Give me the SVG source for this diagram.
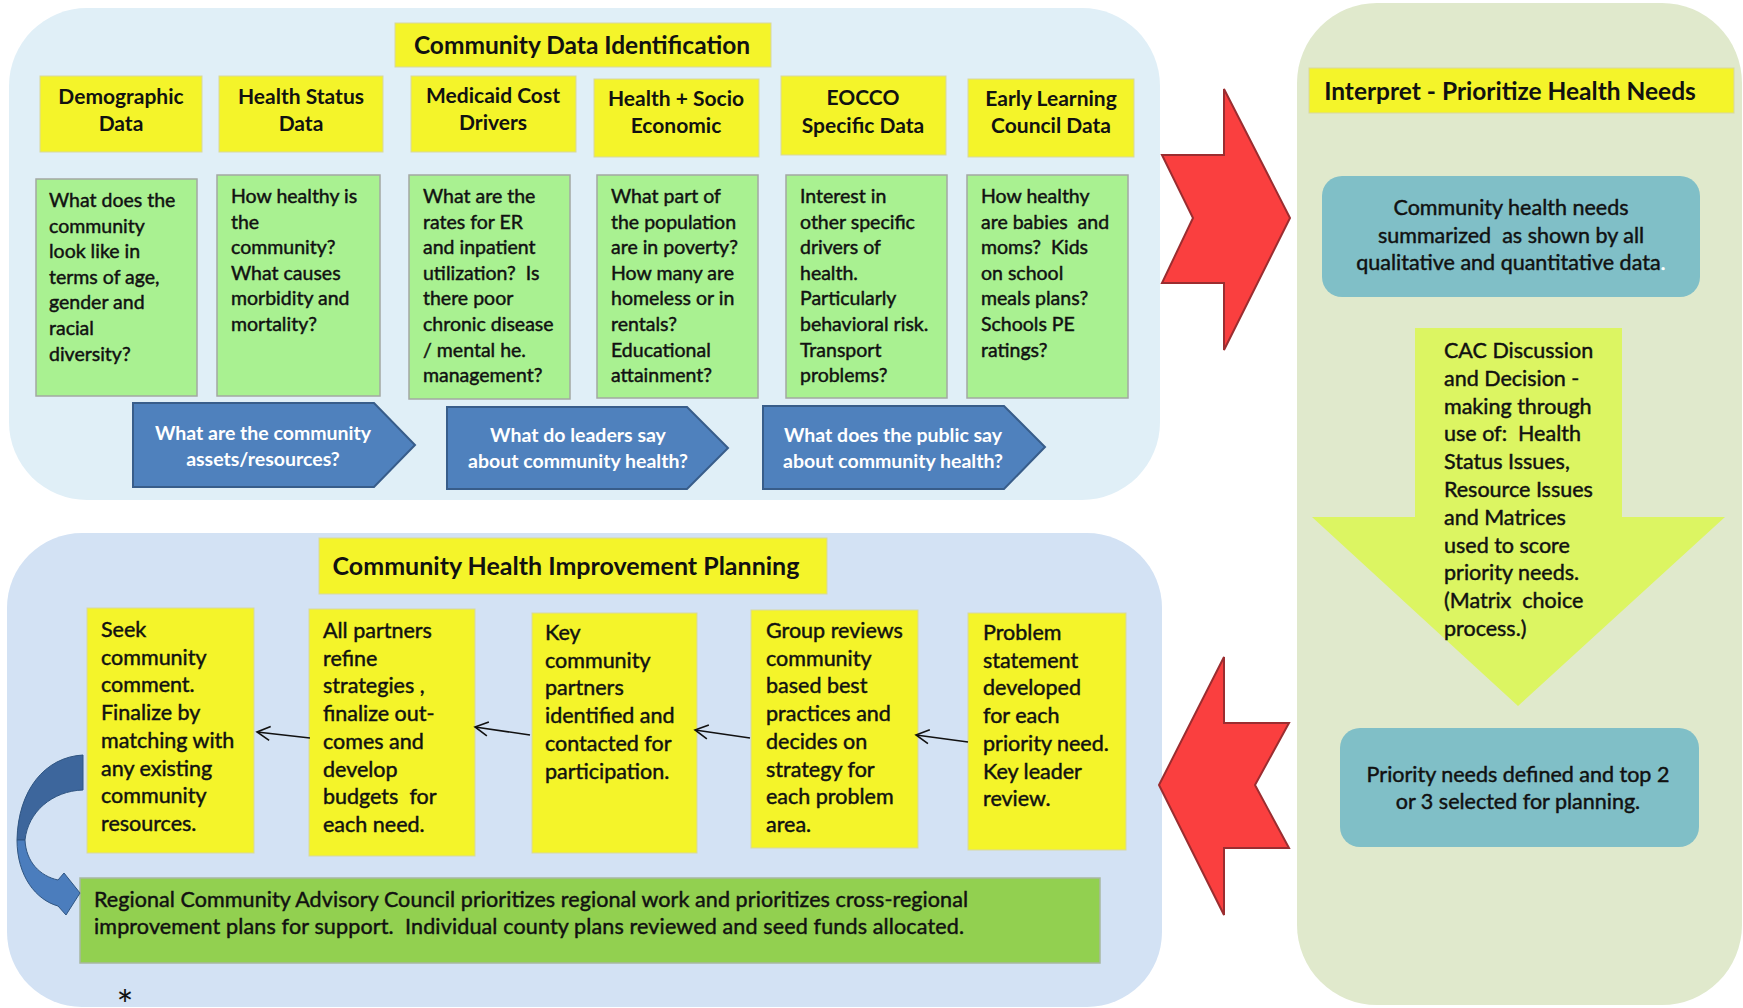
<svg xmlns="http://www.w3.org/2000/svg" width="1743" height="1008" viewBox="0 0 1743 1008">
<defs>
<style>
text{font-family:Lato,"Open Sans","Liberation Sans",sans-serif;fill:#111;white-space:pre;}
.ttl{font-size:24.5px;font-weight:bold;text-anchor:middle;}
.hdr{font-size:21px;font-weight:bold;text-anchor:middle;}
.body{font-size:19.5px;stroke:#111;stroke-width:0.45;}
.plan{font-size:21.5px;stroke:#111;stroke-width:0.45;}
.blu{font-size:19.5px;font-weight:bold;fill:#fff;text-anchor:middle;}
.teal{font-size:21.5px;text-anchor:middle;stroke:#111;stroke-width:0.45;}
.yel{fill:#f4f42a;stroke:#d8d8a0;stroke-width:1;}
.grn{fill:#a9f191;stroke:#a3a8a3;stroke-width:1.5;}
.barrow{fill:#4f81bd;stroke:#385d8a;stroke-width:2;}
.red{fill:#fa3f3f;stroke:#9b2d30;stroke-width:2;}
.tealbox{fill:#80bfc7;}
.conn{stroke:#111;stroke-width:1.6;fill:none;}
</style>
<marker id="ah" viewBox="0 0 20 20" refX="18" refY="10" markerWidth="20" markerHeight="20" orient="auto" markerUnits="userSpaceOnUse">
<path d="M5 3 L18 10 L5 17" fill="none" stroke="#111" stroke-width="1.6"/>
</marker>
</defs>

<!-- panels -->
<g id="panel-data">
<rect x="9" y="8" width="1151" height="492" rx="78" fill="#e0eff7"/>
</g>
<g id="panel-planning">
<rect x="7" y="533" width="1155" height="474" rx="75" fill="#d3e2f4"/>
</g>
<g id="panel-interpret">
<rect x="1297" y="3" width="445" height="1002" rx="80" fill="#e0e9cc"/>
</g>

<!-- Top section -->
<g id="title-data">
<rect class="yel" x="395" y="23" width="376" height="44" stroke="none"/>
<text class="ttl" x="582" y="54">Community Data Identification</text>
</g>

<g id="hdr-demographic">
<rect class="yel" x="40" y="76" width="162" height="76" stroke="none"/>
<text class="hdr" x="121" y="104">Demographic<tspan x="121" y="131">Data</tspan></text>
</g>
<g id="hdr-health-status">
<rect class="yel" x="219" y="76" width="164" height="76" stroke="none"/>
<text class="hdr" x="301" y="104">Health Status<tspan x="301" y="131">Data</tspan></text>
</g>
<g id="hdr-medicaid">
<rect class="yel" x="411" y="76" width="165" height="76" stroke="none"/>
<text class="hdr" x="493" y="103">Medicaid Cost<tspan x="493" y="130">Drivers</tspan></text>
</g>
<g id="hdr-socio">
<rect class="yel" x="594" y="79" width="165" height="78" stroke="none"/>
<text class="hdr" x="676" y="106">Health + Socio<tspan x="676" y="133">Economic</tspan></text>
</g>
<g id="hdr-eocco">
<rect class="yel" x="781" y="76" width="165" height="79" stroke="none"/>
<text class="hdr" x="863" y="105">EOCCO<tspan x="863" y="133">Specific Data</tspan></text>
</g>
<g id="hdr-early">
<rect class="yel" x="968" y="79" width="166" height="78" stroke="none"/>
<text class="hdr" x="1051" y="106">Early Learning<tspan x="1051" y="133">Council Data</tspan></text>
</g>

<g id="q-demographic">
<rect class="grn" x="36" y="179" width="161" height="217"/>
<text class="body" x="49" y="207">What does the<tspan x="49" dy="25.6">community</tspan><tspan x="49" dy="25.6">look like in</tspan><tspan x="49" dy="25.6">terms of age,</tspan><tspan x="49" dy="25.6">gender and</tspan><tspan x="49" dy="25.6">racial</tspan><tspan x="49" dy="25.6">diversity?</tspan></text>
</g>
<g id="q-health-status">
<rect class="grn" x="217" y="175" width="163" height="221"/>
<text class="body" x="231" y="203">How healthy is<tspan x="231" dy="25.6">the</tspan><tspan x="231" dy="25.6">community?</tspan><tspan x="231" dy="25.6">What causes</tspan><tspan x="231" dy="25.6">morbidity and</tspan><tspan x="231" dy="25.6">mortality?</tspan></text>
</g>
<g id="q-medicaid">
<rect class="grn" x="409" y="175" width="161" height="224"/>
<text class="body" x="423" y="203">What are the<tspan x="423" dy="25.6">rates for ER</tspan><tspan x="423" dy="25.6">and inpatient</tspan><tspan x="423" dy="25.6">utilization?  Is</tspan><tspan x="423" dy="25.6">there poor</tspan><tspan x="423" dy="25.6">chronic disease</tspan><tspan x="423" dy="25.6">/ mental he.</tspan><tspan x="423" dy="25.6">management?</tspan></text>
</g>
<g id="q-socio">
<rect class="grn" x="597" y="175" width="161" height="223"/>
<text class="body" x="611" y="203">What part of<tspan x="611" dy="25.6">the population</tspan><tspan x="611" dy="25.6">are in poverty?</tspan><tspan x="611" dy="25.6">How many are</tspan><tspan x="611" dy="25.6">homeless or in</tspan><tspan x="611" dy="25.6">rentals?</tspan><tspan x="611" dy="25.6">Educational</tspan><tspan x="611" dy="25.6">attainment?</tspan></text>
</g>
<g id="q-eocco">
<rect class="grn" x="786" y="175" width="161" height="223"/>
<text class="body" x="800" y="203">Interest in<tspan x="800" dy="25.6">other specific</tspan><tspan x="800" dy="25.6">drivers of</tspan><tspan x="800" dy="25.6">health.</tspan><tspan x="800" dy="25.6">Particularly</tspan><tspan x="800" dy="25.6">behavioral risk.</tspan><tspan x="800" dy="25.6">Transport</tspan><tspan x="800" dy="25.6">problems?</tspan></text>
</g>
<g id="q-early">
<rect class="grn" x="967" y="175" width="161" height="223"/>
<text class="body" x="981" y="203">How healthy<tspan x="981" dy="25.6">are babies  and</tspan><tspan x="981" dy="25.6">moms?  Kids</tspan><tspan x="981" dy="25.6">on school</tspan><tspan x="981" dy="25.6">meals plans?</tspan><tspan x="981" dy="25.6">Schools PE</tspan><tspan x="981" dy="25.6">ratings?</tspan></text>
</g>

<g id="q-assets">
<path class="barrow" d="M133 403 L374 403 L415 445 L374 487 L133 487 Z"/>
<text class="blu" x="263" y="440">What are the community<tspan x="263" y="466">assets/resources?</tspan></text>
</g>
<g id="q-leaders">
<path class="barrow" d="M447 407 L687 407 L728 448 L687 489 L447 489 Z"/>
<text class="blu" x="578" y="442">What do leaders say<tspan x="578" y="468">about community health?</tspan></text>
</g>
<g id="q-public">
<path class="barrow" d="M763 406 L1004 406 L1045 447 L1004 489 L763 489 Z"/>
<text class="blu" x="893" y="442">What does the public say<tspan x="893" y="468">about community health?</tspan></text>
</g>

<!-- Right section -->
<g id="title-interpret">
<rect class="yel" x="1309" y="68" width="425" height="45" stroke="none"/>
<text class="ttl" x="1510" y="100">Interpret - Prioritize Health Needs</text>
</g>
<g id="needs-summary">
<rect class="tealbox" x="1322" y="176" width="378" height="121" rx="20"/>
<text class="teal" x="1511" y="215">Community health needs<tspan x="1511" y="243">summarized  as shown by all</tspan><tspan x="1511" y="270">qualitative and quantitative data<tspan style="fill:#fff;stroke:#fff">.</tspan></tspan></text>
</g>
<g id="cac-decision">
<path d="M1415 328 L1622 328 L1622 517 L1725 517 L1518 706 L1312 517 L1415 517 Z" fill="#dcf562"/>
<text class="plan" x="1444" y="358">CAC Discussion<tspan x="1444" dy="27.8">and Decision -</tspan><tspan x="1444" dy="27.8">making through</tspan><tspan x="1444" dy="27.8">use of:  Health</tspan><tspan x="1444" dy="27.8">Status Issues,</tspan><tspan x="1444" dy="27.8">Resource Issues</tspan><tspan x="1444" dy="27.8">and Matrices</tspan><tspan x="1444" dy="27.8">used to score</tspan><tspan x="1444" dy="27.8">priority needs.</tspan><tspan x="1444" dy="27.8">(Matrix  choice</tspan><tspan x="1444" dy="27.8">process.)</tspan></text>
</g>
<g id="priority-needs">
<rect class="tealbox" x="1340" y="728" width="359" height="119" rx="20"/>
<text class="teal" x="1518" y="782">Priority needs defined and top 2<tspan x="1518" y="809">or 3 selected for planning.</tspan></text>
</g>

<!-- Bottom section -->
<g id="title-planning">
<rect class="yel" x="319" y="538" width="508" height="56" stroke="#c8c8a0"/>
<text class="ttl" x="566" y="575" style="font-size:25px">Community Health Improvement Planning</text>
</g>
<g id="step-seek">
<rect class="yel" x="87" y="608" width="167" height="245"/>
<text class="plan" x="101" y="637">Seek<tspan x="101" dy="27.7">community</tspan><tspan x="101" dy="27.7">comment.</tspan><tspan x="101" dy="27.7">Finalize by</tspan><tspan x="101" dy="27.7">matching with</tspan><tspan x="101" dy="27.7">any existing</tspan><tspan x="101" dy="27.7">community</tspan><tspan x="101" dy="27.7">resources.</tspan></text>
</g>
<g id="step-partners">
<rect class="yel" x="309" y="609" width="166" height="247"/>
<text class="plan" x="323" y="638">All partners<tspan x="323" dy="27.7">refine</tspan><tspan x="323" dy="27.7">strategies ,</tspan><tspan x="323" dy="27.7">finalize out-</tspan><tspan x="323" dy="27.7">comes and</tspan><tspan x="323" dy="27.7">develop</tspan><tspan x="323" dy="27.7">budgets  for</tspan><tspan x="323" dy="27.7">each need.</tspan></text>
</g>
<g id="step-key">
<rect class="yel" x="532" y="613" width="165" height="240"/>
<text class="plan" x="545" y="640">Key<tspan x="545" dy="27.7">community</tspan><tspan x="545" dy="27.7">partners</tspan><tspan x="545" dy="27.7">identified and</tspan><tspan x="545" dy="27.7">contacted for</tspan><tspan x="545" dy="27.7">participation.</tspan></text>
</g>
<g id="step-group">
<rect class="yel" x="751" y="610" width="167" height="238"/>
<text class="plan" x="766" y="638">Group reviews<tspan x="766" dy="27.7">community</tspan><tspan x="766" dy="27.7">based best</tspan><tspan x="766" dy="27.7">practices and</tspan><tspan x="766" dy="27.7">decides on</tspan><tspan x="766" dy="27.7">strategy for</tspan><tspan x="766" dy="27.7">each problem</tspan><tspan x="766" dy="27.7">area.</tspan></text>
</g>
<g id="step-problem">
<rect class="yel" x="968" y="613" width="158" height="237"/>
<text class="plan" x="983" y="640">Problem<tspan x="983" dy="27.7">statement</tspan><tspan x="983" dy="27.7">developed</tspan><tspan x="983" dy="27.7">for each</tspan><tspan x="983" dy="27.7">priority need.</tspan><tspan x="983" dy="27.7">Key leader</tspan><tspan x="983" dy="27.7">review.</tspan></text>
</g>
<g id="regional-council">
<rect x="80" y="878" width="1020" height="85" fill="#92d050" stroke="#a8b8a0" stroke-width="1.5"/>
<text class="plan" x="94" y="907"><tspan x="94" y="907" textLength="874" lengthAdjust="spacing">Regional Community Advisory Council prioritizes regional work and prioritizes cross-regional</tspan><tspan x="94" y="934" textLength="870" lengthAdjust="spacing">improvement plans for support.  Individual county plans reviewed and seed funds allocated.</tspan></text>
</g>
<g id="note">
<text x="125" y="1020" style="font-size:40px;text-anchor:middle">*</text>
</g>

<!-- connectors -->
<g id="connectors">
<path class="red" d="M1162 155 L1224 155 L1224 89 L1290 218 L1224 350 L1224 283 L1162 283 L1193 218 Z"/>
<path class="red" d="M1289 723 L1224 723 L1224 657 L1159 785 L1224 915 L1224 848 L1289 848 L1255 785 Z"/>
<line class="conn" x1="310" y1="738" x2="257" y2="732" marker-end="url(#ah)"/>
<line class="conn" x1="530" y1="735" x2="475" y2="727" marker-end="url(#ah)"/>
<line class="conn" x1="750" y1="738" x2="695" y2="730" marker-end="url(#ah)"/>
<line class="conn" x1="968" y1="742" x2="916" y2="735" marker-end="url(#ah)"/>
<path d="M83 755 C45 757 18 790 17 840 L25 840 C28 812 52 791 83 790 Z" fill="#3d669c" stroke="#2f5582" stroke-width="1"/>
<path d="M17 840 C17 876 36 900 58 906 L66 915 L80 893 L64 873 L58 880 C40 876 26 862 25 840 Z" fill="#4b7dbd" stroke="#2f5582" stroke-width="1"/>
</g>
</svg>
